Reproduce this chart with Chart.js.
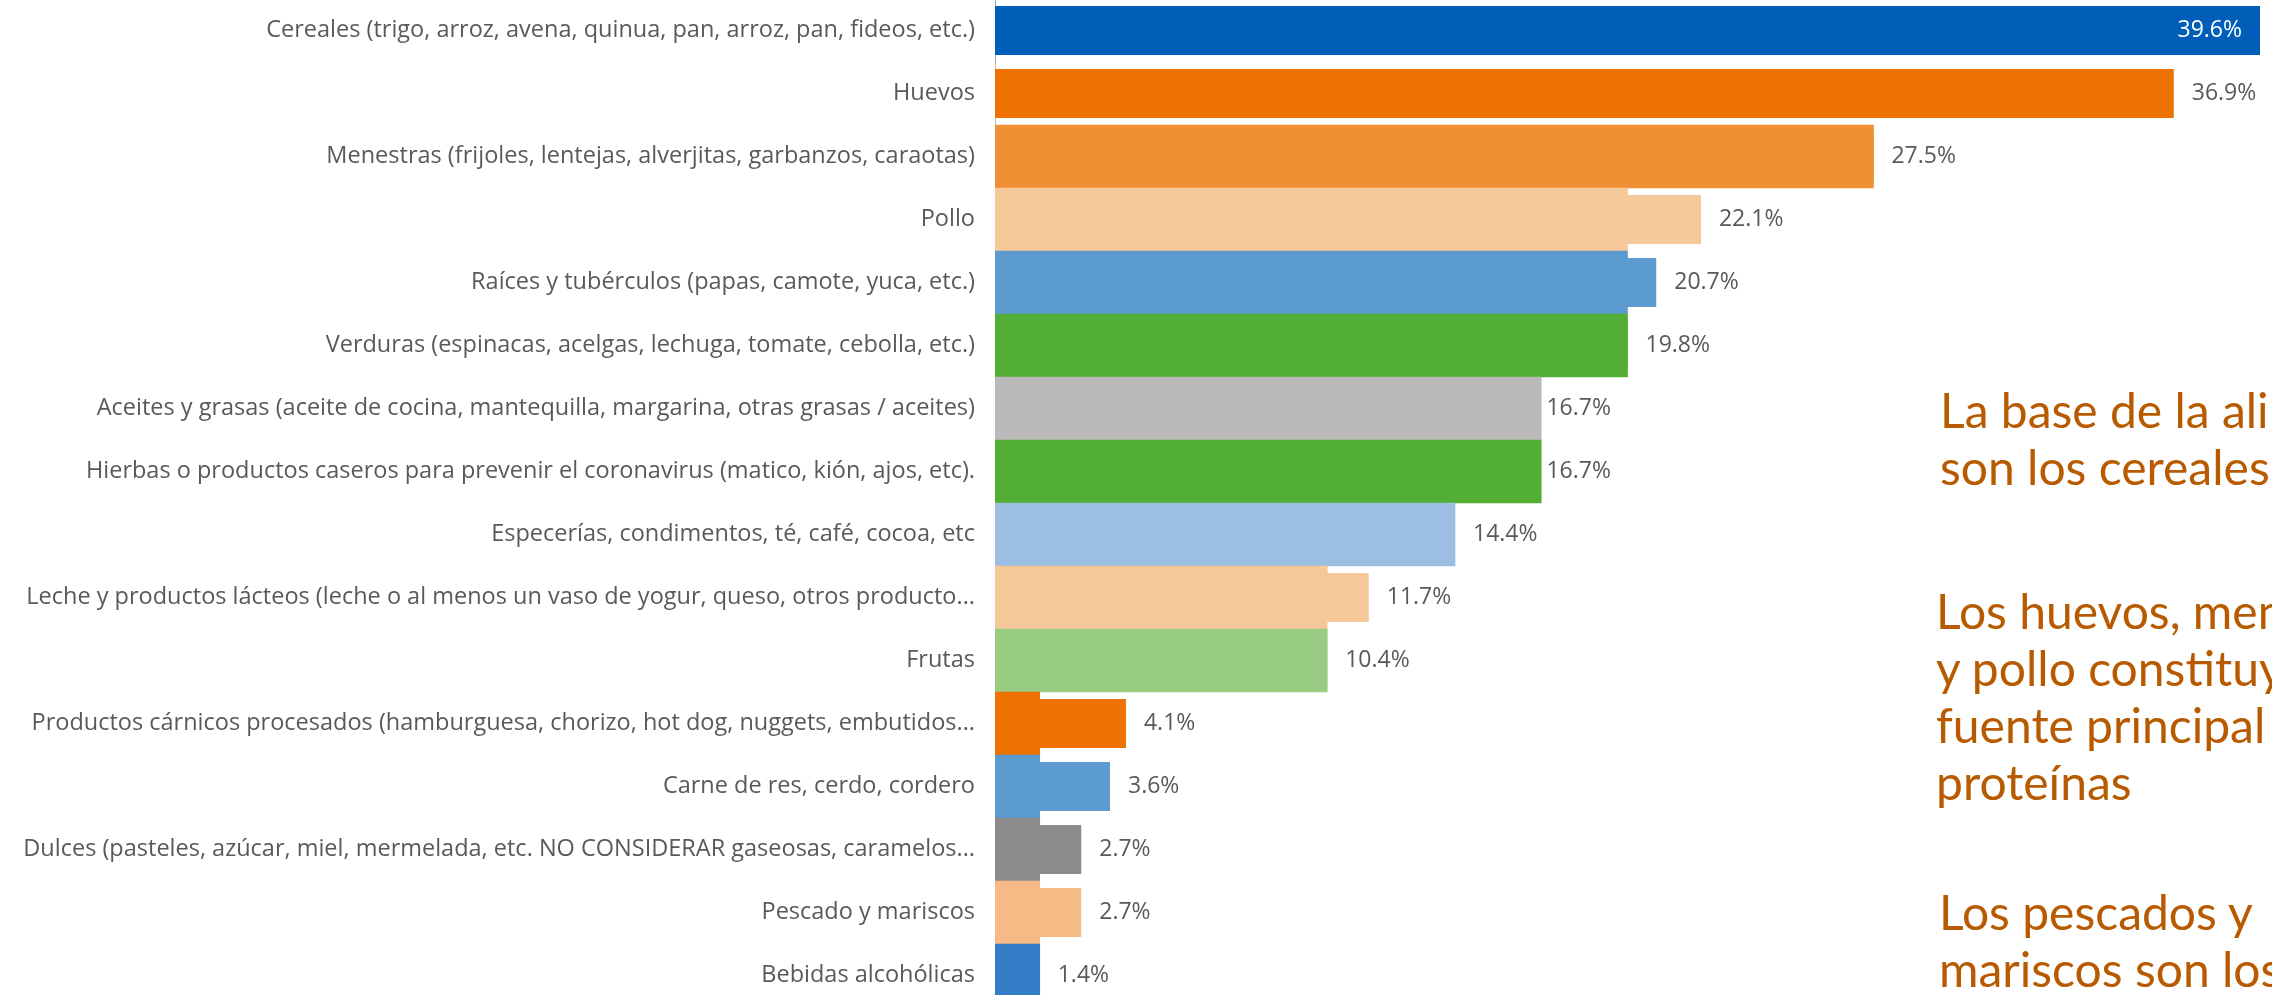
<!DOCTYPE html>
<html lang="es">
<head>
<meta charset="utf-8">
<title>Consumo de alimentos</title>
<script src="https://cdn.jsdelivr.net/npm/chart.js@4"></script>
<style>
    html, body { margin: 0; padding: 0; background: #fff; width: 2272px; height: 995px; overflow: hidden; }
    #wrap { position: absolute; left: 0; top: -1px; width: 2272px; height: 1008px; }
    .nota {
        position: absolute;
        font-family: Lato, 'Noto Sans', sans-serif;
        font-size: 48px;
        line-height: 57px;
        color: #B85A00;
        white-space: nowrap;
    }
</style>
</head>
<body>
<div id="wrap"><canvas id="chart"></canvas></div>
<div class="nota" style="left:1940px; top:381px;">La base de la alimentación<br>son los cereales</div>
<div class="nota" style="left:1936px; top:582px;">Los huevos, menestras<br>y pollo constituyen la<br>fuente principal de<br>proteínas</div>
<div class="nota" style="left:1939px; top:883px;">Los pescados y<br>mariscos son los menos</div>
<script>
const categorias = [
    'Cereales (trigo, arroz, avena, quinua, pan, arroz, pan, fideos, etc.)',
    'Huevos',
    'Menestras (frijoles, lentejas, alverjitas, garbanzos, caraotas)',
    'Pollo',
    'Raíces y tubérculos (papas, camote, yuca, etc.)',
    'Verduras (espinacas, acelgas, lechuga, tomate, cebolla, etc.)',
    'Aceites y grasas (aceite de cocina, mantequilla, margarina, otras grasas / aceites)',
    'Hierbas o productos caseros para prevenir el coronavirus (matico, kión, ajos, etc).',
    'Especerías, condimentos, té, café, cocoa, etc',
    'Leche y productos lácteos (leche o al menos un vaso de yogur, queso, otros producto...',
    'Frutas',
    'Productos cárnicos procesados (hamburguesa, chorizo, hot dog, nuggets, embutidos...',
    'Carne de res, cerdo, cordero',
    'Dulces (pasteles, azúcar, miel, mermelada, etc. NO CONSIDERAR gaseosas, caramelos...',
    'Pescado y mariscos',
    'Bebidas alcohólicas'
];

// porcentaje de hogares que consumen cada grupo
const porcentajes = [39.6, 36.9, 27.5, 22.1, 20.7, 19.8, 16.7, 16.7, 14.4, 11.7, 10.4, 4.1, 3.6, 2.7, 2.7, 1.4];

// franja de altura completa que se ve detrás de las barras
const relleno = [0, 0, 27.5, 19.8, 19.8, 19.8, 17.1, 17.1, 14.4, 10.4, 10.4, 1.4, 1.4, 1.4, 1.4, 1.4];

const colores = [
    '#005EB8', '#ED7103', '#F08F34', '#F6C799', '#5B9BD0', '#52AE34', '#BABABA', '#52AE34',
    '#9BBEE2', '#F6C799', '#98CC82', '#ED7103', '#5B9BD0', '#8B8B8B', '#F5BA86', '#327DC6'
];

const FUENTE = "'Open Sans', 'Noto Sans', sans-serif";

// etiquetas de valor al final de cada barra
const etiquetasValor = {
    id: 'etiquetasValor',
    afterDatasetsDraw(chart) {
        const ctx = chart.ctx;
        const meta = chart.getDatasetMeta(0);
        const area = chart.chartArea;
        ctx.save();
        ctx.font = '23px ' + FUENTE;
        ctx.textBaseline = 'middle';
        meta.data.forEach((bar, i) => {
            const txt = porcentajes[i].toFixed(1) + '%';
            const w = ctx.measureText(txt).width;
            if (bar.x + 18 + w > area.right + 10) {
                ctx.fillStyle = '#FFFFFF';
                ctx.textAlign = 'right';
                ctx.fillText(txt, bar.x - 18, bar.y);
            } else {
                ctx.fillStyle = '#595959';
                ctx.textAlign = 'left';
                ctx.fillText(txt, bar.x + 18, bar.y);
            }
        });
        ctx.restore();
    }
};

function renderChart() {
    const options = {
        type: 'bar',
        data: {
            labels: categorias,
            datasets: [
                {
                    label: 'Porcentaje',
                    data: porcentajes,
                    backgroundColor: colores,
                    barPercentage: 0.78,
                    categoryPercentage: 1,
                    grouped: false,
                    order: 1
                },
                {
                    label: 'Relleno',
                    data: relleno,
                    backgroundColor: colores,
                    barPercentage: 1,
                    categoryPercentage: 1,
                    grouped: false,
                    order: 2
                }
            ]
        },
        options: {
            indexAxis: 'y',
            responsive: true,
            maintainAspectRatio: false,
            animation: false,
            layout: { padding: { top: 0, bottom: 0, left: 0, right: 12 } },
            plugins: {
                legend: { display: false },
                tooltip: { enabled: false },
                title: { display: false }
            },
            scales: {
                x: {
                    display: false,
                    min: 0,
                    max: 39.6
                },
                y: {
                    afterFit(scale) {
                        scale.width = 995;
                        // sin margen extra arriba/abajo por las etiquetas
                        scale.paddingTop = 0;
                        scale.paddingBottom = 0;
                    },
                    grid: { display: false, drawTicks: false },
                    border: { display: true, color: '#D9D9D9', width: 1 },
                    ticks: {
                        padding: 20,
                        color: '#595959',
                        font: { family: FUENTE, size: 23.5 },
                        autoSkip: false
                    }
                }
            }
        },
        plugins: [etiquetasValor]
    };
    return new Chart(document.getElementById('chart'), options);
}

window.theChart = renderChart();
</script>
</body>
</html>
